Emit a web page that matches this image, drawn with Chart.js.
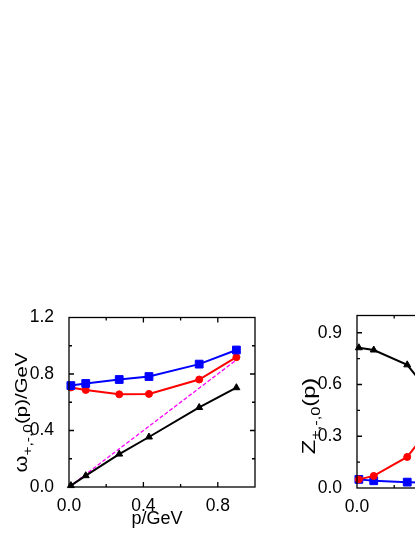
<!DOCTYPE html>
<html>
<head>
<meta charset="utf-8">
<script src="https://cdn.jsdelivr.net/npm/chart.js@4.4.1/dist/chart.umd.min.js"></script>
<style>
  html, body { margin: 0; padding: 0; background: #fff; overflow: hidden; width: 415px; height: 537px; }
  .box { position: absolute; }
  #leftBox { left: 0; top: 300px; width: 270px; height: 237px; }
  #rightBox { left: 288px; top: 298px; width: 270px; height: 240px; }
</style>
</head>
<body>
<div id="leftBox" class="box"><canvas id="energyChart"></canvas></div>
<div id="rightBox" class="box"><canvas id="weightChart"></canvas></div>
<script>
// momentum grid (GeV)
const momenta = [0.01, 0.09, 0.27, 0.43, 0.70, 0.90];

// left panel: dispersion omega(p)
const omegaPlus = [0.718, 0.733, 0.761, 0.782, 0.870, 0.970];
const omegaMinus = [0.705, 0.687, 0.656, 0.659, 0.761, 0.919];
const omegaZero = [0.01, 0.08, 0.233, 0.354, 0.563, 0.703];
const lightLineP = [0, 0.9];
const lightLineE = [0, 0.9];

// right panel: residues Z(p)
const zPlus = [0.05, 0.042, 0.034, 0.03, 0.025, 0.02];
const zMinus = [0.05, 0.07, 0.18, 0.40, 0.62, 0.70];
const zZero = [0.813, 0.80, 0.714, 0.50, 0.30, 0.25];

// ticks
const momentumTickValues = [0, 0.2, 0.4, 0.6, 0.8, 1.0];
const momentumTickLabels = ['0.0', '', '0.4', '', '0.8', ''];
const energyTickValues = [0, 0.2, 0.4, 0.6, 0.8, 1.0, 1.2];
const energyTickLabels = ['0.0', '', '0.4', '', '0.8', '', '1.2'];
const weightTickValues = [0, 0.15, 0.3, 0.45, 0.6, 0.75, 0.9, 1.0];
const weightTickLabels = ['0.0', '', '0.3', '', '0.6', '', '0.9', ''];

const fontFamily = '"Liberation Sans", Arial, sans-serif';

// axis titles per canvas (kept outside chart options so they are not proxied)
const titles = {
    energyChart: {
        yParts: [['ω', 18, 0], ['+,-,0', 13, 5], ['(p)/GeV', 17, 0]],
        yX: 26.5, yY: 112.5, stretch: 1.2,
        xText: 'p/GeV', xX: 157, xY: 223.5
    },
    weightChart: {
        yParts: [['Z', 19, 0], ['+,-,0', 13, 5], ['(p)', 19, 0]],
        yX: 27, yY: 118, stretch: 1.25
    }
};

function pairs(xs, ys) {
    return xs.map((x, i) => ({ x: x, y: ys[i] }));
}

function series(values, color, style, radius) {
    return {
        data: pairs(momenta, values),
        showLine: true,
        borderColor: color,
        backgroundColor: color,
        borderWidth: 2,
        pointStyle: style,
        pointRadius: radius,
        pointBorderWidth: 1,
        pointBorderColor: color,
        clip: false
    };
}

function drawVerticalTitle(ctx, parts, x, cy, stretch) {
    ctx.save();
    const widths = parts.map(p => {
        ctx.font = p[1] + 'px ' + fontFamily;
        return ctx.measureText(p[0]).width;
    });
    const total = widths.reduce((s, w) => s + w, 0);
    ctx.translate(x, cy);
    ctx.rotate(-Math.PI / 2);
    ctx.scale(stretch, 1);
    ctx.fillStyle = '#000';
    ctx.textBaseline = 'alphabetic';
    ctx.textAlign = 'left';
    let pos = -total / 2;
    parts.forEach((p, i) => {
        ctx.font = p[1] + 'px ' + fontFamily;
        ctx.fillText(p[0], pos, p[2]);
        pos += widths[i];
    });
    ctx.restore();
}

// box frame, inward ticks on all sides, axis titles
const framePlugin = {
    id: 'frame',
    afterDraw(chart) {
        const { ctx, chartArea: a, scales } = chart;
        ctx.save();
        ctx.strokeStyle = '#000';
        ctx.lineWidth = 1.3;
        ctx.strokeRect(a.left, a.top, a.right - a.left, a.bottom - a.top);
        ctx.beginPath();
        scales.x.ticks.forEach(t => {
            if (t.value <= scales.x.min || t.value >= scales.x.max) return;
            const px = scales.x.getPixelForValue(t.value);
            const len = t.label ? 5 : 3;
            ctx.moveTo(px, a.bottom); ctx.lineTo(px, a.bottom - len);
            ctx.moveTo(px, a.top); ctx.lineTo(px, a.top + len);
        });
        scales.y.ticks.forEach(t => {
            if (t.value <= scales.y.min || t.value >= scales.y.max) return;
            const py = scales.y.getPixelForValue(t.value);
            const len = t.label ? 5 : 3;
            ctx.moveTo(a.left, py); ctx.lineTo(a.left + len, py);
            ctx.moveTo(a.right, py); ctx.lineTo(a.right - len, py);
        });
        ctx.stroke();
        ctx.restore();

        const t = titles[chart.canvas.id];
        drawVerticalTitle(ctx, t.yParts, t.yX, t.yY, t.stretch);
        if (t.xText) {
            ctx.save();
            ctx.fillStyle = '#000';
            ctx.font = '18px ' + fontFamily;
            ctx.textAlign = 'center';
            ctx.textBaseline = 'alphabetic';
            ctx.fillText(t.xText, t.xX, t.xY);
            ctx.restore();
        }
    }
};

function makeChart(id, datasets, yTicks, yLabels) {
    const tickFont = { family: fontFamily, size: 17.5 };
    return new Chart(document.getElementById(id), {
        type: 'scatter',
        data: { datasets: datasets },
        options: {
            responsive: true,
            maintainAspectRatio: false,
            animation: false,
            layout: { padding: { top: 15, right: 15, left: 0, bottom: 0 } },
            plugins: {
                legend: { display: false },
                tooltip: { enabled: false }
            },
            scales: {
                x: {
                    type: 'linear',
                    min: 0,
                    max: 1.0,
                    grid: { display: false },
                    border: { display: false },
                    afterBuildTicks: s => { s.ticks = momentumTickValues.map(v => ({ value: v })); },
                    ticks: {
                        color: '#000',
                        font: tickFont,
                        padding: 1,
                        maxRotation: 0,
                        autoSkip: false,
                        callback: (v, i) => momentumTickLabels[i]
                    },
                    afterFit: s => { s.height = 50; }
                },
                y: {
                    type: 'linear',
                    min: yTicks[0],
                    max: yTicks[yTicks.length - 1],
                    grid: { display: false },
                    border: { display: false },
                    afterBuildTicks: s => { s.ticks = yTicks.map(v => ({ value: v })); },
                    ticks: {
                        color: '#000',
                        font: tickFont,
                        padding: 7,
                        autoSkip: false,
                        callback: (v, i) => yLabels[i]
                    },
                    afterFit: s => { s.width = 69; }
                }
            }
        },
        plugins: [framePlugin]
    });
}

makeChart('energyChart', [
    series(omegaPlus, '#0000FF', 'rect', 5.5),
    series(omegaMinus, '#FF0000', 'circle', 3.5),
    series(omegaZero, '#000000', 'triangle', 4),
    {
        data: pairs(lightLineP, lightLineE),
        showLine: true,
        borderColor: '#FF00FF',
        borderWidth: 1.3,
        borderDash: [4, 2],
        pointRadius: 0,
        clip: false
    }
], energyTickValues, energyTickLabels);

makeChart('weightChart', [
    series(zZero, '#000000', 'triangle', 4),
    series(zMinus, '#FF0000', 'circle', 3.5),
    series(zPlus, '#0000FF', 'rect', 5.5)
], weightTickValues, weightTickLabels);
</script>
</body>
</html>
